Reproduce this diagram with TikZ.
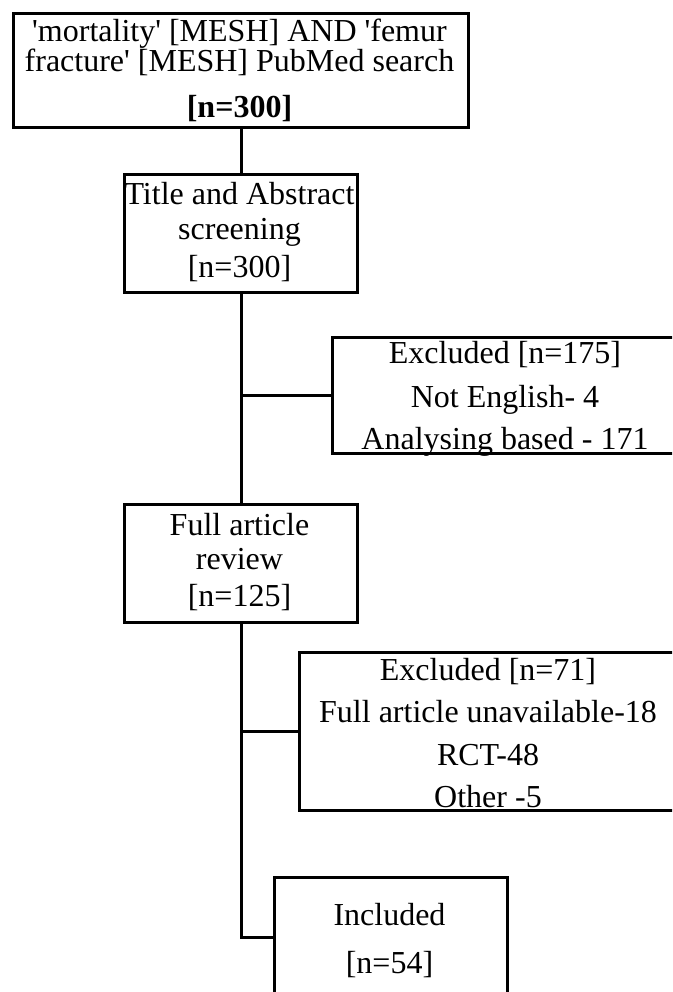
\documentclass[tikz,border=0pt]{standalone}
\usepackage{fontspec}
\setmainfont{Liberation Serif}
\begin{document}
\begin{tikzpicture}[x=1pt,y=-1pt,
  box/.style={draw,line width=3pt,inner sep=0pt,anchor=north west},
  txt/.style={inner sep=0pt,anchor=base,font=\fontsize{32pt}{36pt}\selectfont},
  conn/.style={line width=3pt}]
\useasboundingbox (0,0) rectangle (672,992);
\clip (0,0) rectangle (672,992);
% boxes
\node[box,minimum width=455pt,minimum height=114pt] (b1) at (12,12) {};
\node[box,minimum width=233pt,minimum height=118pt] (b2) at (123,173) {};
\node[box,minimum width=360pt,minimum height=116pt] (b3) at (331,336) {};
\node[box,minimum width=233pt,minimum height=118pt] (b4) at (123,503) {};
\node[box,minimum width=390pt,minimum height=158pt] (b5) at (298,651) {};
\node[box,minimum width=233pt,minimum height=120pt] (b6) at (273,876) {};
% texts
\node[txt] (t1a) at (239.5,42) {\textquotesingle mortality\textquotesingle{} [MESH] AND \textquotesingle femur};
\node[txt] (t1b) at (239.5,72) {fracture\textquotesingle{} [MESH] PubMed search};
\node[txt,font=\fontsize{32pt}{36pt}\selectfont\bfseries] (t1c) at (239.5,118) {[n=300]};
\node[txt] (t2a) at (239.5,205) {Title and Abstract};
\node[txt] (t2b) at (239.5,240) {screening};
\node[txt] (t2c) at (239.5,277) {[n=300]};
\begin{scope}
\clip (b3.north west) rectangle (b3.south east);
\node[txt] (t3a) at (505,363) {Excluded [n=175]};
\node[txt] (t3b) at (505,407) {Not English- 4};
\node[txt] (t3c) at (505,449) {Analysing based - 171};
\end{scope}
\node[txt] (t4a) at (239.5,535) {Full article};
\node[txt] (t4b) at (239.5,569) {review};
\node[txt] (t4c) at (239.5,606) {[n=125]};
\begin{scope}
\clip (b5.north west) rectangle (b5.south east);
\node[txt] (t5a) at (488,680) {Excluded [n=71]};
\node[txt] (t5b) at (488,722) {Full article unavailable-18};
\node[txt] (t5c) at (488,765) {RCT-48};
\node[txt] (t5d) at (488,807) {Other -5};
\end{scope}
\node[txt] (t6a) at (389.5,925) {Included};
\node[txt] (t6b) at (389.5,973) {[n=54]};
% connectors
\draw[conn] (b1.south) -- (b2.north);
\draw[conn] (b2.south) -- (b4.north);
\draw[conn] (b3.west) -- (b3.west -| b2.south);
\draw[conn] (b5.west) -- (b5.west -| b4.south);
\draw[conn] (b4.south) |- (b6.west);
\end{tikzpicture}
\end{document}
